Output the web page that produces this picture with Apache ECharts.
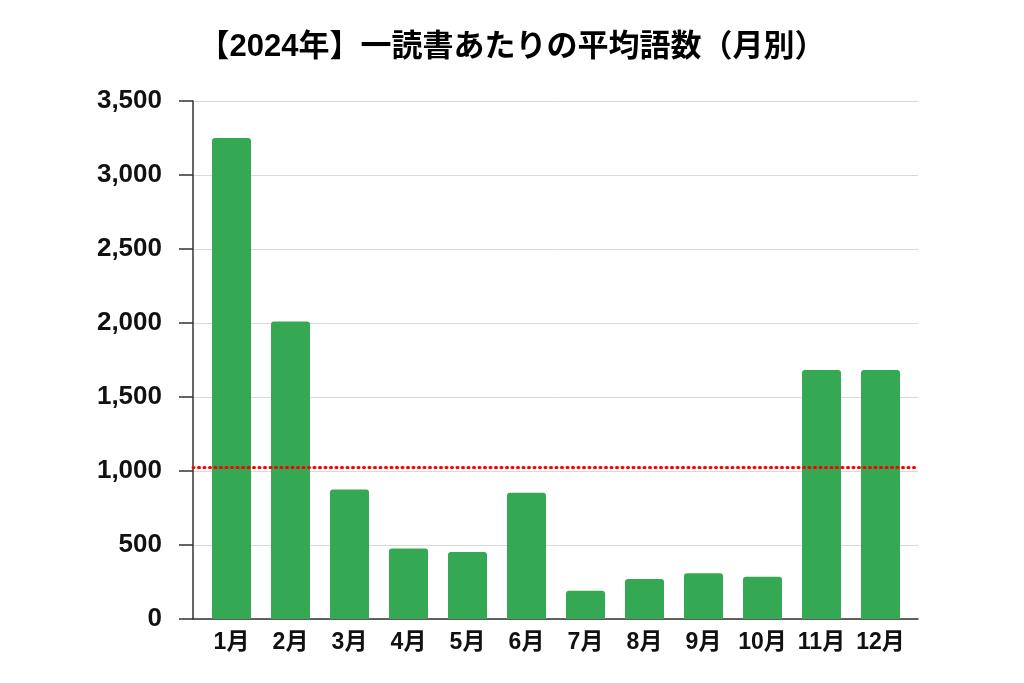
<!DOCTYPE html>
<html>
<head>
<meta charset="utf-8">
<script src="https://cdn.jsdelivr.net/npm/echarts@6/dist/echarts.min.js"></script>
<style>
  html, body { margin: 0; padding: 0; background: #fff; }
  #mychart { width: 1024px; height: 683px; }
</style>
</head>
<body>
<div id="mychart"></div>
<script>
// 月別の平均語数
const months = ['1月', '2月', '3月', '4月', '5月', '6月', '7月', '8月', '9月', '10月', '11月', '12月'];
const wordCounts = [3250, 2010, 875, 477, 453, 853, 191, 270, 309, 286, 1682, 1682];
const yTicks = [0, 500, 1000, 1500, 2000, 2500, 3000, 3500];

const average = wordCounts.reduce((a, b) => a + b, 0) / wordCounts.length;
const font = '"Liberation Sans", "Noto Sans CJK JP", sans-serif';

const option = {
  animation: false,
  title: {
    text: '【2024年】一読書あたりの平均語数（月別）',
    left: 'center',
    top: 27,
    padding: [5, 16, 5, 5],
    textStyle: { fontFamily: font, fontSize: 31, fontWeight: 'bold', color: '#000' }
  },
  grid: [
    // 軸と目盛り線
    { left: 193, right: 106, top: 101, bottom: 64 },
    // 棒グラフ
    { left: 202, right: 114, top: 101, bottom: 64 }
  ],
  xAxis: [
    {
      type: 'category', gridIndex: 0, data: months,
      axisLine: { lineStyle: { color: '#333', width: 1.5 } },
      axisTick: { show: false },
      axisLabel: { show: false }
    },
    {
      type: 'category', gridIndex: 1, data: months,
      axisLine: { show: false },
      axisTick: { show: false },
      axisLabel: {
        interval: 0,
        margin: 12,
        fontFamily: font, fontSize: 23, fontWeight: 'bold', color: '#111'
      }
    }
  ],
  yAxis: [
    {
      type: 'value', gridIndex: 0, min: 0, max: 3500, interval: 500,
      axisLine: { show: true, lineStyle: { color: '#333', width: 1.5 } },
      axisTick: { show: true, length: 14, lineStyle: { color: '#333', width: 1.5 } },
      axisLabel: {
        margin: 31,
        fontFamily: font, fontSize: 26, fontWeight: 'bold', color: '#111',
        formatter: v => yTicks.includes(v) ? v.toLocaleString('en-US') : ''
      },
      splitLine: { lineStyle: { color: '#d9d9d9', width: 1 } }
    },
    {
      type: 'value', gridIndex: 1, min: 0, max: 3500, interval: 500,
      show: false, splitLine: { show: false }
    }
  ],
  series: [
    {
      type: 'bar',
      xAxisIndex: 1,
      yAxisIndex: 1,
      data: wordCounts,
      barWidth: 39,
      itemStyle: { color: '#34a853', borderRadius: [3, 3, 0, 0] }
    },
    {
      // 平均線
      type: 'line',
      xAxisIndex: 0,
      yAxisIndex: 0,
      data: [],
      z: 5,
      markLine: {
        silent: true,
        symbol: 'none',
        label: { show: false },
        lineStyle: { color: '#ff0000', width: 3, type: [1, 4.5], cap: 'round' },
        data: [{ yAxis: average }]
      }
    }
  ]
};

const myChart = echarts.init(document.getElementById('mychart'));
myChart.setOption(option);
window.addEventListener('resize', () => {
  myChart.resize();
});
</script>
</body>
</html>
